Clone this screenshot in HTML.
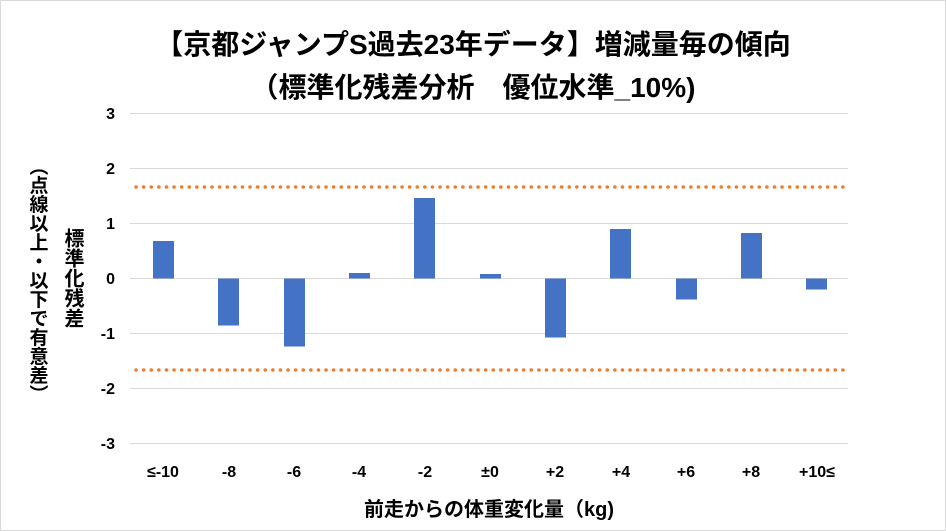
<!DOCTYPE html>
<html><head><meta charset="utf-8"><style>
body{margin:0;width:946px;height:531px;background:#fff;overflow:hidden;position:relative;font-family:"Liberation Sans","Noto Sans CJK JP",sans-serif;}
.frame{position:absolute;left:0;top:0;width:944px;height:529px;border:1px solid #d9d9d9;}
.t{position:absolute;font-weight:bold;color:#000;white-space:nowrap;}
.v{position:absolute;writing-mode:vertical-rl;font-weight:bold;white-space:nowrap;transform:translate(-50%,-50%);line-height:1;}
</style></head><body>
<div class="frame"></div>
<div class="t" style="left:0;width:946px;text-align:center;top:27px;font-size:28px;line-height:36px;">【京都ジャンプS過去23年データ】増減量毎の傾向</div>
<div class="t" style="left:0;width:946px;text-align:center;top:70px;font-size:28px;line-height:36px;">（標準化残差分析　優位水準_10%)</div>
<div class="v" style="left:37px;top:280px;font-size:19px;">（点線以上・以下で有意差）</div>
<div class="v" style="left:72px;top:278px;font-size:20px;">標準化残差</div>
<svg width="946" height="531" style="position:absolute;left:0;top:0">
<g stroke="#d9d9d9" stroke-width="1">
<line x1="130" x2="848" y1="113.5" y2="113.5"/><line x1="130" x2="848" y1="168.5" y2="168.5"/>
<line x1="130" x2="848" y1="223.5" y2="223.5"/><line x1="130" x2="848" y1="278.5" y2="278.5"/>
<line x1="130" x2="848" y1="333.5" y2="333.5"/><line x1="130" x2="848" y1="388.5" y2="388.5"/>
<line x1="130" x2="848" y1="443.5" y2="443.5"/>
</g>
<g font-family="Liberation Sans, sans-serif" font-weight="bold" font-size="16" text-anchor="end">
<text x="115" y="119">3</text><text x="115" y="174">2</text><text x="115" y="229">1</text>
<text x="115" y="284">0</text><text x="115" y="339">-1</text><text x="115" y="394">-2</text><text x="115" y="449">-3</text>
</g>
<g fill="#4472c4">
<rect x="153" y="241" width="21" height="37.5"/>
<rect x="218" y="278.5" width="21" height="47"/>
<rect x="284" y="278.5" width="21" height="68"/>
<rect x="349" y="273" width="21" height="5.5"/>
<rect x="414" y="198" width="21" height="80.5"/>
<rect x="480" y="274" width="21" height="4.5"/>
<rect x="545" y="278.5" width="21" height="59"/>
<rect x="610" y="229" width="21" height="49.5"/>
<rect x="676" y="278.5" width="21" height="21"/>
<rect x="741" y="233" width="21" height="45.5"/>
<rect x="806" y="278.5" width="21" height="11"/>
</g>
<g stroke="#ed7d31" stroke-width="3.5" stroke-dasharray="0.1 7.5" stroke-linecap="round">
<line x1="136" x2="845" y1="187" y2="187"/><line x1="136" x2="845" y1="370" y2="370"/>
</g>
<g font-family="Liberation Sans, sans-serif" font-weight="bold" font-size="16" text-anchor="middle">
<text x="163" y="477">≤-10</text><text x="229" y="477">-8</text><text x="294" y="477">-6</text>
<text x="359" y="477">-4</text><text x="425" y="477">-2</text><text x="490" y="477">±0</text>
<text x="555" y="477">+2</text><text x="621" y="477">+4</text><text x="686" y="477">+6</text>
<text x="751" y="477">+8</text><text x="817" y="477">+10≤</text>
</g>
</svg>
<div class="t" style="left:130px;width:718px;text-align:center;top:497px;font-size:20px;line-height:26px;">前走からの体重変化量（kg)</div>
</body></html>
